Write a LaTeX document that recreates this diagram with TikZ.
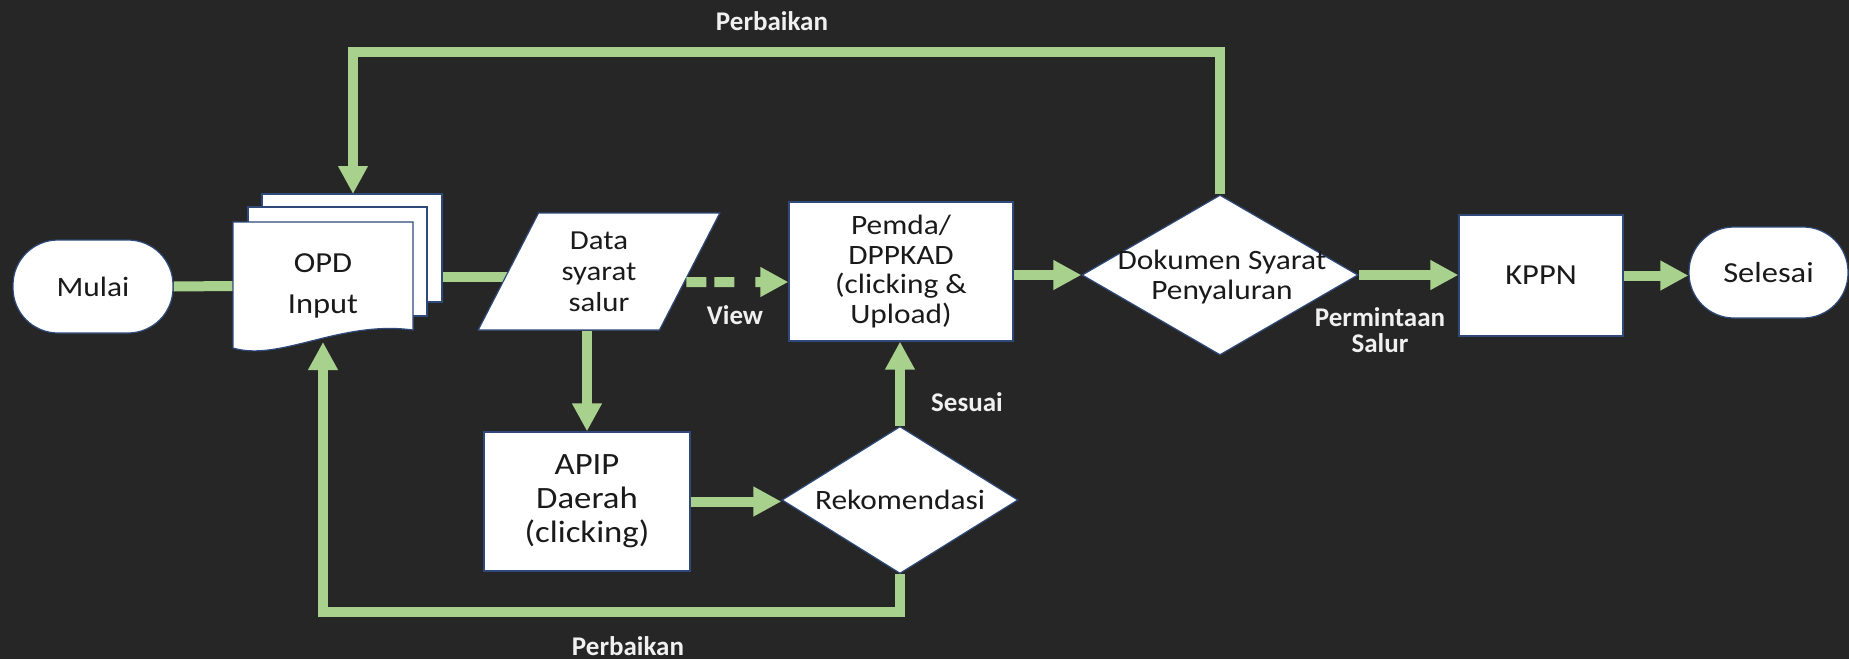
\documentclass[tikz,border=0pt]{standalone}
\usepackage{fontspec}
\setmainfont{Carlito}
\newfontfamily\nf{Carlito}[FakeStretch=1.12]
\usetikzlibrary{shapes.geometric,arrows.meta,calc}
\pgfdeclarelayer{back}
\pgfdeclarelayer{bg}
\pgfsetlayers{back,bg,main}
\definecolor{bgc}{HTML}{262626}
\definecolor{grn}{HTML}{A9D18E}
\definecolor{edgec}{HTML}{2F4A7A}
\definecolor{ink}{HTML}{1A1A1A}
\tikzset{
  box/.style={draw=edgec, line width=1.2pt, fill=white, inner sep=0pt, text=ink, align=center},
  term/.style={box, rectangle, rounded corners=45pt},
  dia/.style={box, diamond, inner sep=0pt},
  page/.style={draw=edgec, line width=1.2pt, fill=white},
  txt/.style={text=ink, align=center, inner sep=0pt},
  link/.style={draw=grn, line width=10pt},
  arr/.style={link, -{Triangle[length=28pt,width=28pt]}},
  lab/.style={text=white!94!black, align=center, inner sep=0pt, font=\bfseries\fontsize{27}{26}\selectfont}
}
\begin{document}
\begin{tikzpicture}[x=1pt,y=-1pt]
\begin{pgfonlayer}{back}
  \fill[bgc] (0,0) rectangle (1849,659);
\end{pgfonlayer}
\useasboundingbox (0,0) rectangle (1849,659);

% OPD multi-document
\draw[page] (262,194) rectangle (442,302);
\draw[page] (248,207) rectangle (427,316);
\draw[page] (233,222) -- (413,222) -- (413,330) .. controls (340,320) and (280,362) .. (233,348) -- cycle;

\node[term, minimum width=160pt, minimum height=93pt, font=\nf\fontsize{28}{30}\selectfont] (mulai) at (93,286.5) {Mulai};
\node[txt, minimum width=180pt, minimum height=128pt, font=\nf\fontsize{29}{41}\selectfont] (opd) at (323,286) {OPD\\Input};
\node[box, trapezium, trapezium left angle=65, trapezium right angle=115, trapezium stretches=true,
      minimum width=242pt, minimum height=117pt, font=\nf\fontsize{27.5}{31}\selectfont] (data) at (599,271.5) {Data\\syarat\\salur};
\node[box, minimum width=224pt, minimum height=139pt, font=\nf\fontsize{28}{29.5}\selectfont] (pemda) at (901,271.5) {Pemda/\\DPPKAD\\(clicking \&\\Upload)};
\node[dia, minimum width=276pt, minimum height=160pt] (dok) at (1220,275) {};
\node[txt, font=\nf\fontsize{28}{30}\selectfont] (doktxt) at (1222,277) {Dokumen Syarat\\Penyaluran};
\node[box, minimum width=164pt, minimum height=121pt, font=\nf\fontsize{29}{30}\selectfont] (kppn) at (1541,275.5) {KPPN};
\node[term, minimum width=159pt, minimum height=91pt, font=\nf\fontsize{29}{30}\selectfont] (selesai) at (1768.5,272.5) {Selesai};
\node[box, minimum width=206pt, minimum height=139pt, font=\nf\fontsize{31}{34}\selectfont] (apip) at (587,501.5) {APIP\\Daerah\\(clicking)};
\node[dia, minimum width=236pt, minimum height=147pt] (rek) at (900,500) {};
\node[txt, font=\nf\fontsize{28}{30}\selectfont] (rektxt) at (900,500) {Rekomendasi};

\coordinate (toprail) at (0,52);
\coordinate (opdin) at (353,194);
\coordinate (botrail) at (0,612);
\coordinate (opdbot) at (323,342);

\begin{pgfonlayer}{bg}
  \draw[link] (mulai.east) -- (opd.west);
  \draw[link] ([yshift=9pt]opd.east) -- ([yshift=9pt]opd.east -| data.west);
\end{pgfonlayer}
\draw[arr, dash pattern=on 20pt off 8pt on 20pt off 21pt] ([xshift=-4pt,yshift=-10.5pt]data.east) -- ([yshift=-10.5pt]pemda.west);
\draw[arr] (pemda.east |- dok.west) -- (dok.west);
\draw[arr] (dok.east) -- (dok.east -| kppn.west);
\draw[arr] (kppn.east) -- (kppn.east -| selesai.west);
\draw[arr] (dok.north) -- (dok.north |- toprail) -| (opdin);
\draw[arr] (apip.north |- data.south) -- (apip.north);
\draw[arr] (apip.east) -- (apip.east -| rek.west);
\draw[arr] (rek.north) -- (rek.north |- pemda.south);
\draw[arr] (rek.south) -- (rek.south |- botrail) -| (opdbot);

\node[lab] (lbltop) at (772,21) {Perbaikan};
\node[lab] (lblview) at (735,315) {View};
\node[lab] (lblperm) at (1380,330) {Permintaan\\Salur};
\node[lab] (lblsesuai) at (967,402) {Sesuai};
\node[lab] (lblbot) at (628,646) {Perbaikan};
\end{tikzpicture}
\end{document}
